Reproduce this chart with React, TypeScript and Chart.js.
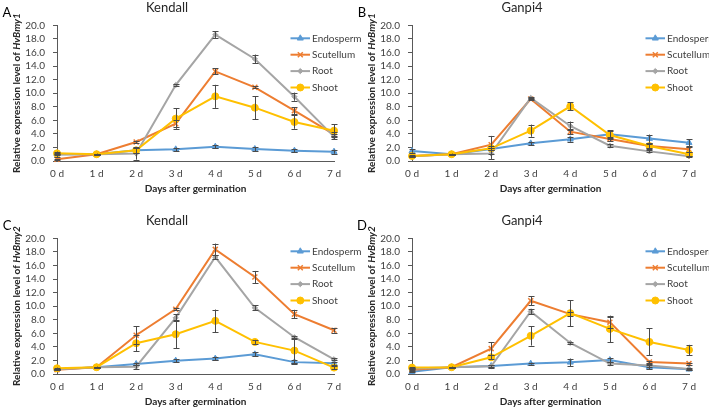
import React, { useEffect, useRef } from 'react';
import { Chart, registerables } from 'chart.js';
import { drawPoint } from 'chart.js/helpers';

Chart.register(...registerables);

const DAYS = ['0 d', '1 d', '2 d', '3 d', '4 d', '5 d', '6 d', '7 d'];
const SERIES_NAMES = ['Endosperm', 'Scutellum', 'Root', 'Shoot'];
const SERIES_COLORS = ['#5B9BD5', '#ED7D31', '#A5A5A5', '#FFC000'];
const POINT_STYLES = ['triangle', 'crossRot', 'rectRot', 'circle'];
const POINT_RADII = [3.5, 3.5, 2.6, 3.5];
const Y_MIN = 0;
const Y_MAX = 20;
const Y_STEP = 2;
const X_TITLE = 'Days after germination';
const Y_TITLE_PREFIX = 'Relative expression level of ';

// Panel A: HvBmy1, Kendall
const A_ENDO = [1.0, 1.0, 1.57, 1.72, 2.11, 1.77, 1.52, 1.38];
const A_ENDO_ERR = [0.4, 0.05, 0.35, 0.25, 0.2, 0.3, 0.2, 0.3];
const A_SCUT = [0.25, 1.0, 2.8, 5.5, 13.2, 10.86, 7.42, 3.93];
const A_SCUT_ERR = [0.05, 0.05, 0.2, 0.55, 0.45, 0.15, 0.5, 0.3];
const A_ROOT = [0.95, 1.0, 1.1, 11.2, 18.62, 15.04, 9.48, 3.59];
const A_ROOT_ERR = [0.1, 0.05, 0.9, 0.1, 0.5, 0.65, 0.6, 0.35];
const A_SHOOT = [1.13, 1.0, 1.57, 6.24, 9.53, 7.86, 5.75, 4.47];
const A_SHOOT_ERR = [0.1, 0.05, 0.4, 1.5, 1.7, 1.7, 1.0, 0.93];

// Panel B: HvBmy1, Ganpi4
const B_ENDO = [1.47, 1.0, 1.77, 2.6, 3.2, 3.93, 3.3, 2.7];
const B_ENDO_ERR = [0.25, 0.05, 0.2, 0.25, 0.35, 0.6, 0.6, 0.5];
const B_SCUT = [0.74, 1.0, 2.4, 9.14, 4.32, 3.24, 2.2, 1.72];
const B_SCUT_ERR = [0.05, 0.05, 1.3, 0.2, 0.4, 0.3, 0.3, 0.4];
const B_ROOT = [0.7, 1.0, 1.1, 9.29, 5.16, 2.26, 1.42, 0.69];
const B_ROOT_ERR = [0.05, 0.05, 0.8, 0.15, 0.65, 0.2, 0.15, 0.1];
const B_SHOOT = [0.74, 1.0, 1.87, 4.47, 8.06, 3.83, 2.2, 0.98];
const B_SHOOT_ERR = [0.1, 0.05, 0.3, 0.9, 0.6, 0.65, 0.5, 0.3];

// Panel C: HvBmy2, Kendall
const C_ENDO = [0.7, 1.0, 1.48, 1.97, 2.27, 2.9, 1.75, 1.58];
const C_ENDO_ERR = [0.1, 0.05, 0.2, 0.2, 0.25, 0.3, 0.3, 0.25];
const C_SCUT = [0.64, 1.0, 5.71, 9.56, 18.37, 14.29, 8.82, 6.45];
const C_SCUT_ERR = [0.05, 0.05, 1.3, 0.2, 0.85, 0.9, 0.64, 0.35];
const C_ROOT = [0.7, 1.0, 1.08, 8.28, 17.24, 9.75, 5.42, 2.17];
const C_ROOT_ERR = [0.05, 0.05, 0.3, 0.5, 0.3, 0.35, 0.2, 0.15];
const C_SHOOT = [0.84, 1.0, 4.53, 5.86, 7.83, 4.73, 3.45, 0.94];
const C_SHOOT_ERR = [0.1, 0.05, 1.2, 2.05, 1.67, 0.3, 1.8, 0.2];

// Panel D: HvBmy2, Ganpi4
const D_ENDO = [0.34, 1.0, 1.18, 1.53, 1.72, 2.05, 0.99, 0.69];
const D_ENDO_ERR = [0.05, 0.05, 0.1, 0.15, 0.55, 0.35, 0.3, 0.1];
const D_SCUT = [0.64, 1.0, 3.74, 10.79, 8.82, 7.64, 1.77, 1.53];
const D_SCUT_ERR = [0.05, 0.05, 0.94, 0.64, 0.3, 0.8, 0.2, 0.15];
const D_ROOT = [0.8, 1.0, 1.13, 9.21, 4.58, 1.53, 1.25, 0.74];
const D_ROOT_ERR = [0.05, 0.05, 0.2, 0.4, 0.15, 0.2, 0.2, 0.1];
const D_SHOOT = [0.94, 1.0, 2.46, 5.62, 8.97, 6.65, 4.73, 3.55];
const D_SHOOT_ERR = [0.1, 0.05, 0.3, 1.43, 1.9, 1.95, 2.0, 0.75];

const PANELS = [
  { letter: 'A', title: 'Kendall', gene: 'HvBmy1', left: 0, top: 0, values: [A_ENDO, A_SCUT, A_ROOT, A_SHOOT], errors: [A_ENDO_ERR, A_SCUT_ERR, A_ROOT_ERR, A_SHOOT_ERR] },
  { letter: 'B', title: 'Ganpi4', gene: 'HvBmy1', left: 355, top: 0, values: [B_ENDO, B_SCUT, B_ROOT, B_SHOOT], errors: [B_ENDO_ERR, B_SCUT_ERR, B_ROOT_ERR, B_SHOOT_ERR] },
  { letter: 'C', title: 'Kendall', gene: 'HvBmy2', left: 0, top: 213, values: [C_ENDO, C_SCUT, C_ROOT, C_SHOOT], errors: [C_ENDO_ERR, C_SCUT_ERR, C_ROOT_ERR, C_SHOOT_ERR] },
  { letter: 'D', title: 'Ganpi4', gene: 'HvBmy2', left: 355, top: 213, values: [D_ENDO, D_SCUT, D_ROOT, D_SHOOT], errors: [D_ENDO_ERR, D_SCUT_ERR, D_ROOT_ERR, D_SHOOT_ERR] },
];

const FONT = 'Lato';
const CANVAS_W = 370;
const CANVAS_H = 197;

type PanelDef = typeof PANELS[number];

function Panel({ p }: { p: PanelDef }) {
  const ref = useRef<HTMLCanvasElement | null>(null);
  useEffect(() => {
    const canvas = ref.current;
    if (!canvas) return;

    const errorBars = {
      id: 'errorBars',
      afterDatasetsDraw(chart: any) {
        const ctx = chart.ctx;
        const ys = chart.scales.y;
        ctx.save();
        ctx.strokeStyle = '#4a4a4a';
        ctx.lineWidth = 1;
        p.values.forEach((vals, i) => {
          const meta = chart.getDatasetMeta(i);
          vals.forEach((v, j) => {
            const e = p.errors[i][j];
            if (!e) return;
            const x = Math.round(meta.data[j].x) + 0.5;
            const y1 = ys.getPixelForValue(v + e);
            const y2 = ys.getPixelForValue(Math.max(0, v - e));
            ctx.beginPath();
            ctx.moveTo(x, y1);
            ctx.lineTo(x, y2);
            ctx.moveTo(x - 3, Math.round(y1) + 0.5);
            ctx.lineTo(x + 3, Math.round(y1) + 0.5);
            ctx.moveTo(x - 3, Math.round(y2) + 0.5);
            ctx.lineTo(x + 3, Math.round(y2) + 0.5);
            ctx.stroke();
          });
        });
        ctx.restore();
      },
    };

    const decorations = {
      id: 'decorations',
      afterDraw(chart: any) {
        const ctx = chart.ctx;
        const { top, bottom } = chart.chartArea;
        ctx.save();
        // panel letter
        ctx.fillStyle = '#000000';
        ctx.font = `13px ${FONT}`;
        ctx.textAlign = 'center';
        ctx.textBaseline = 'middle';
        ctx.fillText(p.letter, 7, 12.5);
        // y-axis title with italic gene name
        ctx.translate(17, (top + bottom) / 2);
        ctx.rotate(-Math.PI / 2);
        const f1 = `bold 10px ${FONT}`;
        const f2 = `italic bold 10px ${FONT}`;
        ctx.font = f1;
        const w1 = ctx.measureText(Y_TITLE_PREFIX).width;
        ctx.font = f2;
        const w2 = ctx.measureText(p.gene).width;
        const x0 = -(w1 + w2) / 2;
        ctx.textAlign = 'left';
        ctx.fillStyle = '#262626';
        ctx.font = f1;
        ctx.fillText(Y_TITLE_PREFIX, x0, 0);
        ctx.font = f2;
        ctx.fillText(p.gene, x0 + w1, 0);
        ctx.restore();

        // legend
        ctx.save();
        SERIES_NAMES.forEach((name, i) => {
          const y = 38.3 + i * 16.4;
          ctx.strokeStyle = SERIES_COLORS[i];
          ctx.lineWidth = 2;
          ctx.beginPath();
          ctx.moveTo(290.5, y);
          ctx.lineTo(310, y);
          ctx.stroke();
          ctx.fillStyle = SERIES_COLORS[i];
          ctx.lineWidth = i === 1 ? 1.5 : 1;
          drawPoint(ctx, { pointStyle: POINT_STYLES[i], radius: POINT_RADII[i], borderWidth: i === 1 ? 1.5 : 1, rotation: 0 } as any, 300.3, y);
          ctx.fillStyle = '#404040';
          ctx.font = `10px ${FONT}`;
          ctx.textAlign = 'left';
          ctx.textBaseline = 'middle';
          ctx.fillText(name, 312, y);
        });
        ctx.restore();
      },
    };

    const chart = new Chart(canvas, {
      type: 'line',
      data: {
        labels: DAYS,
        datasets: p.values.map((vals, i) => ({
          label: SERIES_NAMES[i],
          data: vals,
          borderColor: SERIES_COLORS[i],
          backgroundColor: SERIES_COLORS[i],
          borderWidth: 2,
          pointStyle: POINT_STYLES[i] as any,
          pointRadius: POINT_RADII[i],
          pointBackgroundColor: SERIES_COLORS[i],
          pointBorderColor: SERIES_COLORS[i],
          pointBorderWidth: i === 1 ? 1.5 : 1,
          tension: 0,
          clip: false as any,
          order: 3 - i,
        })),
      },
      options: {
        responsive: false,
        animation: false,
        events: [],
        layout: { padding: { left: 0, right: 36, top: 0, bottom: 0 } },
        plugins: {
          legend: { display: false },
          tooltip: { enabled: false },
          title: {
            display: true,
            text: p.title,
            color: '#262626',
            font: { family: FONT, size: 13, weight: 'normal', lineHeight: 1.2 },
            padding: { top: 0.5, bottom: 9.2 },
          },
        },
        scales: {
          x: {
            offset: false,
            grid: { display: false, drawTicks: false },
            border: { display: true, color: '#595959', width: 1 },
            ticks: { color: '#404040', font: { family: FONT, size: 10 }, padding: 7, maxRotation: 0, autoSkip: false },
            title: {
              display: true,
              text: X_TITLE,
              color: '#262626',
              font: { family: FONT, size: 10, weight: 'bold', lineHeight: 1.2 },
              padding: { top: 0, bottom: 2 },
            },
            afterFit: (s: any) => { s.height = CANVAS_H - 161; },
          },
          y: {
            min: Y_MIN,
            max: Y_MAX,
            grid: { display: true, drawOnChartArea: false, drawTicks: true, tickLength: 4, color: '#595959' },
            border: { display: true, color: '#595959', width: 1 },
            ticks: {
              stepSize: Y_STEP,
              autoSkip: false,
              color: '#404040',
              font: { family: FONT, size: 10 },
              padding: 8,
              callback: (v: any) => Number(v).toFixed(1),
            },
            afterFit: (s: any) => { s.width = 57; },
          },
        },
      },
      plugins: [errorBars, decorations],
    });
    return () => chart.destroy();
  }, [p]);

  return (
    <canvas
      ref={ref}
      width={CANVAS_W}
      height={CANVAS_H}
      style={{ position: 'absolute', left: p.left, top: p.top, width: CANVAS_W, height: CANVAS_H, display: 'block' }}
    />
  );
}

export default function App() {
  return (
    <div style={{ position: 'fixed', left: 0, top: 0, width: 709, height: 410, overflow: 'hidden', background: '#ffffff' }}>
      {PANELS.map((p) => (
        <Panel key={p.letter} p={p} />
      ))}
    </div>
  );
}
